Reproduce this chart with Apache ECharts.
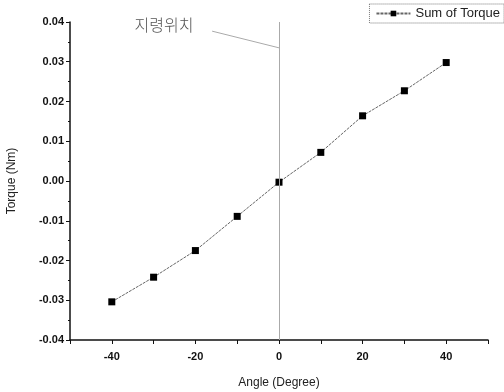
<!DOCTYPE html>
<html><head><meta charset="utf-8">
<script src="https://cdn.jsdelivr.net/npm/echarts@6/dist/echarts.min.js"></script>
<style>html,body{margin:0;padding:0;background:#fff}#c{width:504px;height:392px}</style>
</head><body><div id="c"></div>
<script>
const angles = [-40, -30, -20, -10, 0, 10, 20, 30, 40];
const torque = [-0.0304, -0.0242, -0.0175, -0.0089, -0.0003, 0.0072, 0.0164, 0.0227, 0.0298];
const xLabels = [-40, -20, 0, 20, 40];
const seriesName = 'Sum of Torque';
const annotText = '지령위치';
const annotPos = [-27.5, 0.0393];
const leaderStart = [-16, 0.0377];
const leaderEnd = [0, 0.0335];

const chart = echarts.init(document.getElementById('c'));
const font = 'Liberation Sans, Arial, sans-serif';
chart.setOption({
  animation: false,
  grid: {left: 70, right: 16, top: 22, bottom: 52, containLabel: false, outerBoundsMode: 'none'},
  legend: {
    right: 0, top: 4, padding: [3, 4, 3, 6],
    borderColor: '#777', borderWidth: 1, borderType: 'dotted',
    itemWidth: 34, itemHeight: 7, itemGap: 4,
    textStyle: {fontFamily: font, fontSize: 13, color: '#222'},
    data: [seriesName]
  },
  xAxis: {
    type: 'value', min: -50, max: 50, interval: 10,
    name: 'Angle (Degree)', nameLocation: 'middle', nameGap: 37,
    nameTextStyle: {fontFamily: font, fontSize: 12, color: '#222'},
    axisLine: {onZero: false, lineStyle: {color: '#111', width: 1.5}},
    axisTick: {length: 4, lineStyle: {color: '#111'}},
    axisLabel: {fontFamily: font, fontSize: 11, fontWeight: 'bold', color: '#111', margin: 11,
      formatter: v => (xLabels.indexOf(v) >= 0 ? String(v) : '')},
    splitLine: {show: false}
  },
  yAxis: {
    type: 'value', min: -0.04, max: 0.04, interval: 0.01,
    name: 'Torque (Nm)', nameLocation: 'middle', nameGap: 52,
    nameTextStyle: {fontFamily: font, fontSize: 12, color: '#222'},
    axisLine: {show: true, onZero: false, lineStyle: {color: '#111', width: 1.5}},
    axisTick: {show: true, length: 4, lineStyle: {color: '#111'}},
    minorTick: {show: true, splitNumber: 2, length: 2, lineStyle: {color: '#111'}},
    axisLabel: {fontFamily: font, fontSize: 11, fontWeight: 'bold', color: '#111', margin: 6,
      formatter: v => v.toFixed(2)},
    splitLine: {show: false}
  },
  series: [{
    name: seriesName, type: 'line',
    data: angles.map((a, i) => [a, torque[i]]),
    symbol: 'rect', symbolSize: 7,
    itemStyle: {color: '#000'},
    lineStyle: {color: '#666', width: 1, type: [3, 1]},
    markLine: {
      silent: true, symbol: 'none', label: {show: false},
      data: [
        [{xAxis: 0, yAxis: 0.04}, {xAxis: 0, yAxis: -0.04}],
        [{coord: leaderStart}, {coord: leaderEnd}]
      ],
      lineStyle: {color: '#aaa', width: 1, type: 'solid'}
    },
    markPoint: {
      silent: true, symbol: 'circle', symbolSize: 0,
      data: [{coord: annotPos, value: annotText}],
      label: {show: true, formatter: annotText, fontFamily: 'Noto Sans CJK KR', fontSize: 16,
        fontWeight: 300, color: '#555', position: 'inside'}
    }
  }]
});
</script></body></html>
